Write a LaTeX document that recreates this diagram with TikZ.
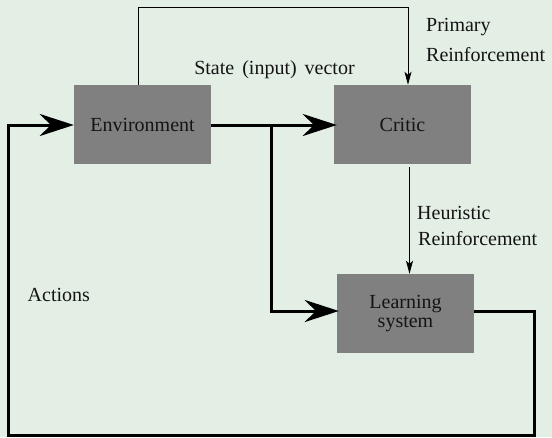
\documentclass[tikz,border=0pt]{standalone}
\usepackage{fontspec}
\setmainfont{Liberation Serif}
\usetikzlibrary{arrows.meta}
\definecolor{bg}{RGB}{227,238,229}
\definecolor{boxgray}{RGB}{128,128,128}
\definecolor{ink}{RGB}{20,20,20}
\begin{document}
\begin{tikzpicture}[x=1pt,y=-1pt,
  blk/.style={fill=boxgray,draw=none,minimum width=137pt,minimum height=79pt,inner sep=0pt,align=center,text=ink,font=\fontsize{20}{22}\selectfont},
  lbl/.style={font=\fontsize{20}{26}\selectfont,text=ink,inner sep=0pt,align=left},
  thick line/.style={line width=3pt},
  bigarrow/.style={-{Stealth[length=34pt,width=22pt,inset=11pt]}},
  thin line/.style={line width=1pt,-{Stealth[length=13pt,width=7pt,inset=3pt]}}]
\useasboundingbox[fill=bg] (0,0) rectangle (552,437);
\node[blk] (env) at (142.5,124.5) {Environment};
\node[blk] (critic) at (402.5,124.5) {Critic};
\node[blk] (learn) at (405.5,313.5) {\raisebox{-4pt}{\shortstack{Learning\\[1pt]system}}};
\coordinate (topL) at (138,7);
\coordinate (topR) at (408,7);
\coordinate (split) at (271.5,125);
\coordinate (splitD) at (271.5,311);
\coordinate (lsR) at (534.5,311);
\coordinate (botR) at (534.5,435);
\coordinate (botL) at (8,435);
\coordinate (leftU) at (8,125);
\draw[line width=1pt] (env.north -| topL) -- (topL) -- (topR);
\draw[thin line] (topR) -- (critic.north -| topR);
\draw[thin line] ([yshift=-3pt]critic.south -| 409.5,0) -- (learn.north -| 409.5,0);
\draw[thick line,bigarrow] (env.east |- split) -- ([xshift=3pt]critic.west |- split);
\draw[thick line,bigarrow] (split) -- (splitD) -- ([xshift=2pt]learn.west |- splitD);
\draw[thick line,bigarrow] (learn.east |- lsR) -- (lsR) -- (botR) -- (botL) -- (leftU) -- (env.west |- leftU);
\node[lbl,anchor=west] (prim) at (426,27) {Primary};
\node[lbl,anchor=west] (primr) at (426,55) {Reinforcement};
\node[lbl] (state) at (274.5,70) {State\hspace{0.4em}(input)\hspace{0.4em}vector};
\node[lbl,anchor=west] (heur) at (417,213) {Heuristic};
\node[lbl,anchor=west] (heurr) at (418,239) {Reinforcement};
\node[lbl,anchor=west] (act) at (27.5,295) {Actions};
\end{tikzpicture}
\end{document}
